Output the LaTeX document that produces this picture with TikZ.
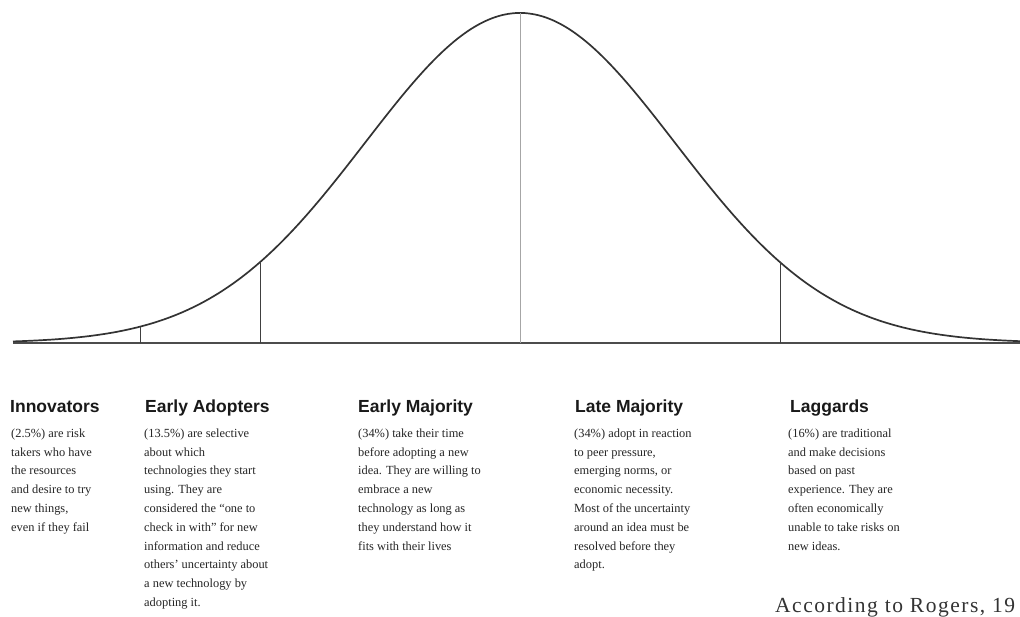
\documentclass[tikz,border=0pt]{standalone}
\usepackage{fontspec}
\setmainfont{Liberation Serif}
\newfontfamily\headfont{Liberation Sans}
\newfontfamily\citefont[LetterSpace=7]{Liberation Serif}
\begin{document}
\begin{tikzpicture}[x=1pt,y=-1pt,
  curve/.style={line width=1.7pt, draw=black!80},
  axisline/.style={line width=2pt, draw=black!70},
  divider/.style={line width=1pt, draw=black!75},
  centerline/.style={line width=1pt, draw=black!35},
  head/.style={font=\headfont\bfseries\fontsize{17.5}{20}\selectfont, anchor=base west, inner sep=0pt, text=black!90},
  body/.style={font=\fontsize{12.4}{18.8}\selectfont, anchor=north west, inner sep=0pt, align=left, text=black!85},
  cite/.style={font=\citefont\fontsize{21.5}{24}\selectfont, anchor=base west, inner sep=0pt, text=black!80}
]
\useasboundingbox (0,0) rectangle (1020,616);
\clip (0,0) rectangle (1020,616);
\fill[white] (0,0) rectangle (1020,616);

% baseline
\coordinate (axL) at (13,343);
\coordinate (axR) at (1020,343);
\draw[axisline] (axL) -- (axR);

% bell curve
\draw[curve] plot[domain=13:1020, samples=300, smooth] (\x, {343 - 330*exp(-0.5*((\x-520)/155)^2)});

% dividers
\coordinate (b1) at (140,343); \coordinate (t1) at (140,{343 - 330*exp(-0.5*((140-520)/155)^2)});
\coordinate (b2) at (260,343); \coordinate (t2) at (260,{343 - 330*exp(-0.5*((260-520)/155)^2)});
\coordinate (b3) at (520,343); \coordinate (t3) at (520,13);
\coordinate (b4) at (780,343); \coordinate (t4) at (780,{343 - 330*exp(-0.5*((780-520)/155)^2)});
\draw[divider] (b1) -- (t1);
\draw[divider] (b2) -- (t2);
\draw[centerline] (b3) -- (t3);
\draw[divider] (b4) -- (t4);

% headings
\node[head] (h1) at (10,412) {Innovators};
\node[head] (h2) at (145,412) {Early Adopters};
\node[head] (h3) at (358,412) {Early Majority};
\node[head] (h4) at (575,412) {Late Majority};
\node[head] (h5) at (790,412) {Laggards};

% bodies
\node[body] (p1) at (11,424) {\strut(2.5\%) are risk\\takers who have\\the resources\\and desire to try\\new things,\\even if they fail};
\node[body] (p2) at (144,424) {\strut(13.5\%) are selective\\about which\\technologies they start\\using. They are\\considered the “one to\\check in with” for new\\information and reduce\\others’ uncertainty about\\a new technology by\\adopting it.};
\node[body] (p3) at (358,424) {\strut(34\%) take their time\\before adopting a new\\idea. They are willing to\\embrace a new\\technology as long as\\they understand how it\\fits with their lives};
\node[body] (p4) at (574,424) {\strut(34\%) adopt in reaction\\to peer pressure,\\emerging norms, or\\economic necessity.\\Most of the uncertainty\\around an idea must be\\resolved before they\\adopt.};
\node[body] (p5) at (788,424) {\strut(16\%) are traditional\\and make decisions\\based on past\\experience. They are\\often economically\\unable to take risks on\\new ideas.};

% citation
\node[cite] (c) at (775,612) {According to Rogers, 19};
\end{tikzpicture}
\end{document}
